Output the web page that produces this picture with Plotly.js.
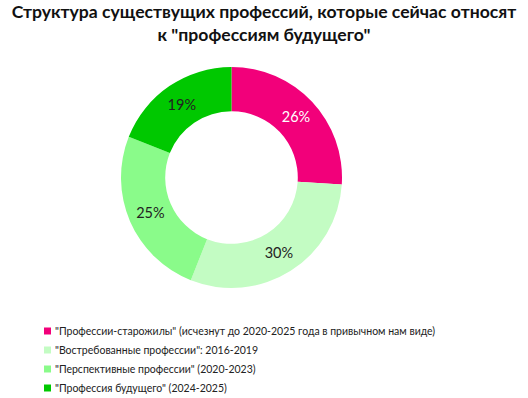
<!DOCTYPE html>
<html>
<head>
<meta charset="utf-8">
<script src="https://cdn.plot.ly/plotly-3.0.1.min.js"></script>
<style>html,body{margin:0;padding:0;background:#fff;}#chart{width:528px;height:398px;}</style>
</head>
<body>
<div id="chart"></div>
<script>
var labels = [
  '"Профессии-старожилы" (исчезнут до 2020-2025 года в привычном нам виде)',
  '"Востребованные профессии": 2016-2019',
  '"Перспективные профессии" (2020-2023)',
  '"Профессия будущего" (2024-2025)'
];
var values = [26, 30, 25, 19];
var colors = ['#F2007A', '#C3FCC3', '#8AFB8A', '#00C800'];
var textColors = ['#ffffff', '#222222', '#222222', '#222222'];

var W = 528, H = 398;
var font = 'Lato, "Open Sans", sans-serif';

var shapes = [], annotations = [];
var legX = 44, legY0 = 331, legStep = 19, sq = 7;
labels.forEach(function (lab, i) {
  var cy = legY0 + i * legStep;
  shapes.push({
    type: 'rect', xref: 'paper', yref: 'paper',
    x0: legX / W, x1: (legX + sq) / W,
    y0: 1 - (cy + sq / 2) / H, y1: 1 - (cy - sq / 2) / H,
    fillcolor: colors[i], line: {width: 0}
  });
  annotations.push({
    xref: 'paper', yref: 'paper', x: (legX + sq + 2) / W, y: 1 - cy / H,
    xanchor: 'left', yanchor: 'middle', showarrow: false,
    text: lab, font: {family: font, size: 10.5, color: '#222222'}
  });
});

var data = [{
  type: 'pie',
  labels: labels,
  values: values,
  hole: 0.6,
  sort: false,
  direction: 'clockwise',
  rotation: 0,
  marker: {colors: colors, line: {width: 0}},
  textinfo: 'percent',
  texttemplate: '%{value}%',
  textposition: 'inside',
  insidetextorientation: 'horizontal',
  textfont: {family: font, size: 14.5, color: textColors},
  showlegend: false,
  domain: {x: [121 / W, 342 / W], y: [1 - 288 / H, 1 - 67 / H]}
}];

var layout = {
  width: W, height: H,
  margin: {l: 0, r: 0, t: 0, b: 0},
  paper_bgcolor: '#ffffff',
  title: {
    text: 'Структура существущих профессий, которые сейчас относят<br>к "профессиям будущего"',
    font: {family: font, size: 17.6, color: '#111111', weight: 'bold'},
    x: 0.5, xanchor: 'center', y: 1 - 18 / H, yanchor: 'top'
  },
  shapes: shapes,
  annotations: annotations
};

Plotly.newPlot('chart', data, layout, {displayModeBar: false, staticPlot: true});
</script>
</body>
</html>
